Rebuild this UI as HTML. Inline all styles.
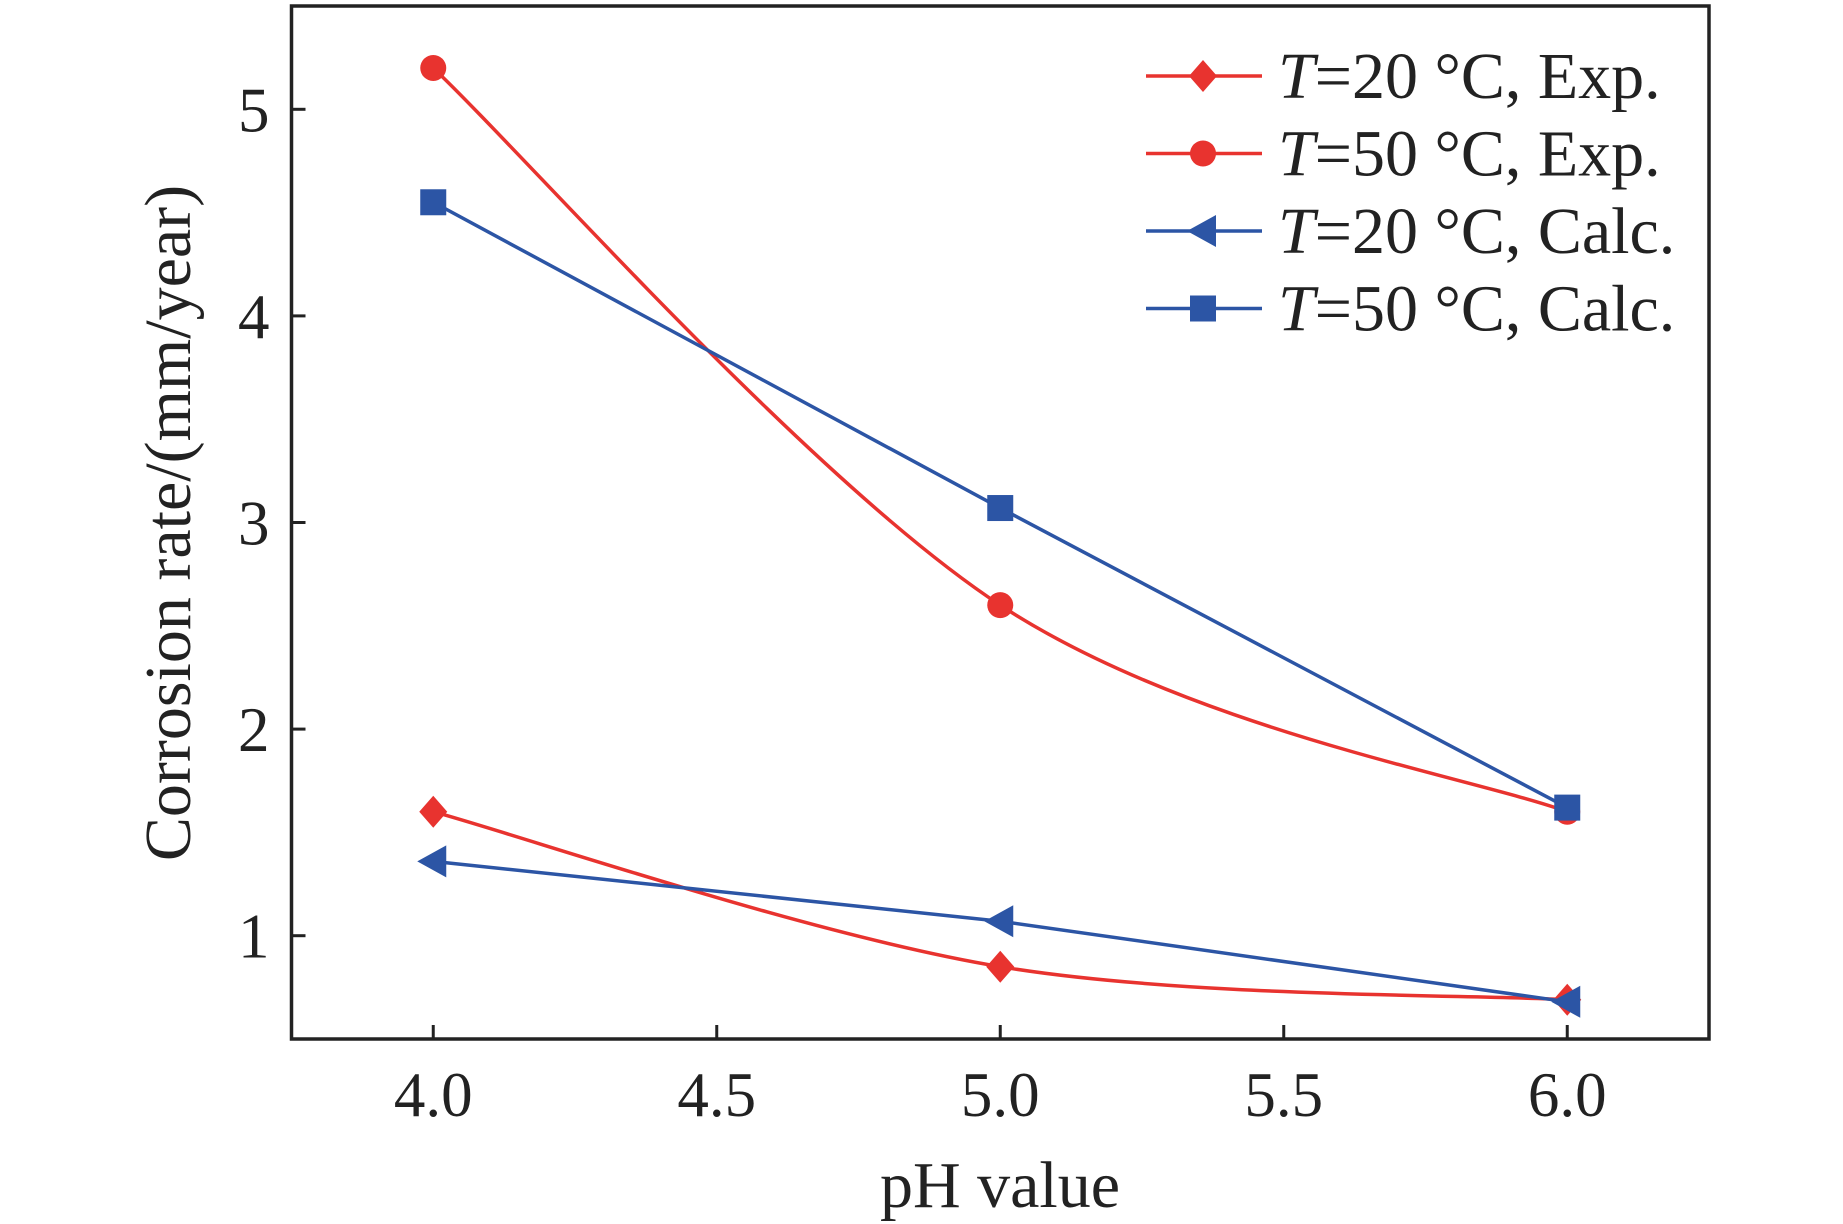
<!DOCTYPE html>
<html><head><meta charset="utf-8"><style>
html,body{margin:0;padding:0;background:#fff;}
svg{display:block;font-family:"Liberation Serif",serif;}
</style></head><body>
<svg id="chart" width="1843" height="1224" viewBox="0 0 1843 1224" xmlns="http://www.w3.org/2000/svg"></svg>
<script>
const categories = [4.0, 5.0, 6.0];
const exp20 = [1.6, 0.85, 0.69];
const exp50 = [5.2, 2.6, 1.6];
const calc20 = [1.36, 1.07, 0.68];
const calc50 = [4.55, 3.07, 1.62];
const xTicks = ["4.0", "4.5", "5.0", "5.5", "6.0"];
const yTicks = ["1", "2", "3", "4", "5"];
const legendLabels = ["=20 °C, Exp.", "=50 °C, Exp.", "=20 °C, Calc.", "=50 °C, Calc."];

const L=291.5,R=1709,T=6,B=1039, X0=3.75,X1=6.25,Y0=0.5,Y1=5.5;
const RED="#e8332f", BLUE="#2c55a5";
const sx=v=>L+(v-X0)/(X1-X0)*(R-L);
const sy=v=>B-(v-Y0)/(Y1-Y0)*(B-T);
const svg=document.getElementById('chart');
const NS="http://www.w3.org/2000/svg";
function mk(tag,attrs,parent){const e=document.createElementNS(NS,tag);for(const k in attrs)e.setAttribute(k,attrs[k]);(parent||svg).appendChild(e);return e;}

const frame=mk('rect',{x:L,y:T,width:R-L,height:B-T,fill:'none',stroke:'#222','stroke-width':3.5});



xTicks.forEach(t=>{const x=sx(parseFloat(t));
 const tk=mk('line',{x1:x,x2:x,y1:B,y2:B-14,stroke:'#222','stroke-width':3});
 
 
 const tx=mk('text',{x:x,y:B+77,'font-size':63,'text-anchor':'middle',fill:'#222'});tx.textContent=t;
 
 
});
yTicks.forEach(t=>{const y=sy(parseFloat(t));
 const tk=mk('line',{x1:L,x2:L+14,y1:y,y2:y,stroke:'#222','stroke-width':3});
 
 
 const tx=mk('text',{x:L-22,y:y+22,'font-size':63,'text-anchor':'end',fill:'#222'});tx.textContent=t;
 
 
});
const xl=mk('text',{x:1000,y:1207,'font-size':66,'text-anchor':'middle',fill:'#222'});xl.textContent='pH value';


const yl=mk('text',{x:0,y:0,'font-size':66,'text-anchor':'middle',fill:'#222',transform:'translate(190,523) rotate(-90)'});yl.textContent='Corrosion rate/(mm/year)';



function smoothPath(pts){
 let d=`M${pts[0][0]},${pts[0][1]}`;
 for(let i=0;i<pts.length-1;i++){
  const p0=pts[Math.max(0,i-1)],p1=pts[i],p2=pts[i+1],p3=pts[Math.min(pts.length-1,i+2)];
  const c1=[p1[0]+(p2[0]-p0[0])/6,p1[1]+(p2[1]-p0[1])/6];
  const c2=[p2[0]-(p3[0]-p1[0])/6,p2[1]-(p3[1]-p1[1])/6];
  d+=` C${c1[0]},${c1[1]} ${c2[0]},${c2[1]} ${p2[0]},${p2[1]}`;
 }
 return d;
}
function marker(kind,x,y,color,g){
 if(kind==='diamond') return mk('polygon',{points:`${x},${y-16} ${x+14},${y} ${x},${y+16} ${x-14},${y}`,fill:color},g);
 if(kind==='circle') return mk('circle',{cx:x,cy:y,r:13,fill:color},g);
 if(kind==='tri') return mk('polygon',{points:`${x-16},${y} ${x+13},${y-16} ${x+13},${y+16}`,fill:color},g);
 return mk('rect',{x:x-13,y:y-13,width:26,height:26,fill:color},g);
}
const series=[
 {name:'exp20',vals:exp20,color:RED,kind:'diamond',smooth:true},
 {name:'exp50',vals:exp50,color:RED,kind:'circle',smooth:true},
 {name:'calc20',vals:calc20,color:BLUE,kind:'tri',smooth:false},
 {name:'calc50',vals:calc50,color:BLUE,kind:'square',smooth:false}
];
series.forEach((s,si)=>{
 const g=mk('g',{});
 
 
 const pts=categories.map((c,i)=>[sx(c),sy(s.vals[i])]);
 const d=s.smooth?smoothPath(pts):'M'+pts.map(p=>p.join(',')).join(' L');
 const ln=mk('path',{d:d,fill:'none',stroke:s.color,'stroke-width':3.5},g);
 
 
 pts.forEach(p=>{const m=marker(s.kind,p[0],p[1],s.color,g);
  
  });
 const ly=76+si*77.5;
 const lg=mk('g',{});
 
 
 mk('line',{x1:1146,x2:1262,y1:ly,y2:ly,stroke:s.color,'stroke-width':3.5},lg);
 marker(s.kind,1203,ly,s.color,lg);
 const t=mk('text',{x:1278,y:ly+22,'font-size':66,fill:'#222'},lg);
 const it=mk('tspan',{'font-style':'italic'},t);it.textContent='T';
 const rest=mk('tspan',{},t);rest.textContent=legendLabels[si];
});
</script>
</body></html>
